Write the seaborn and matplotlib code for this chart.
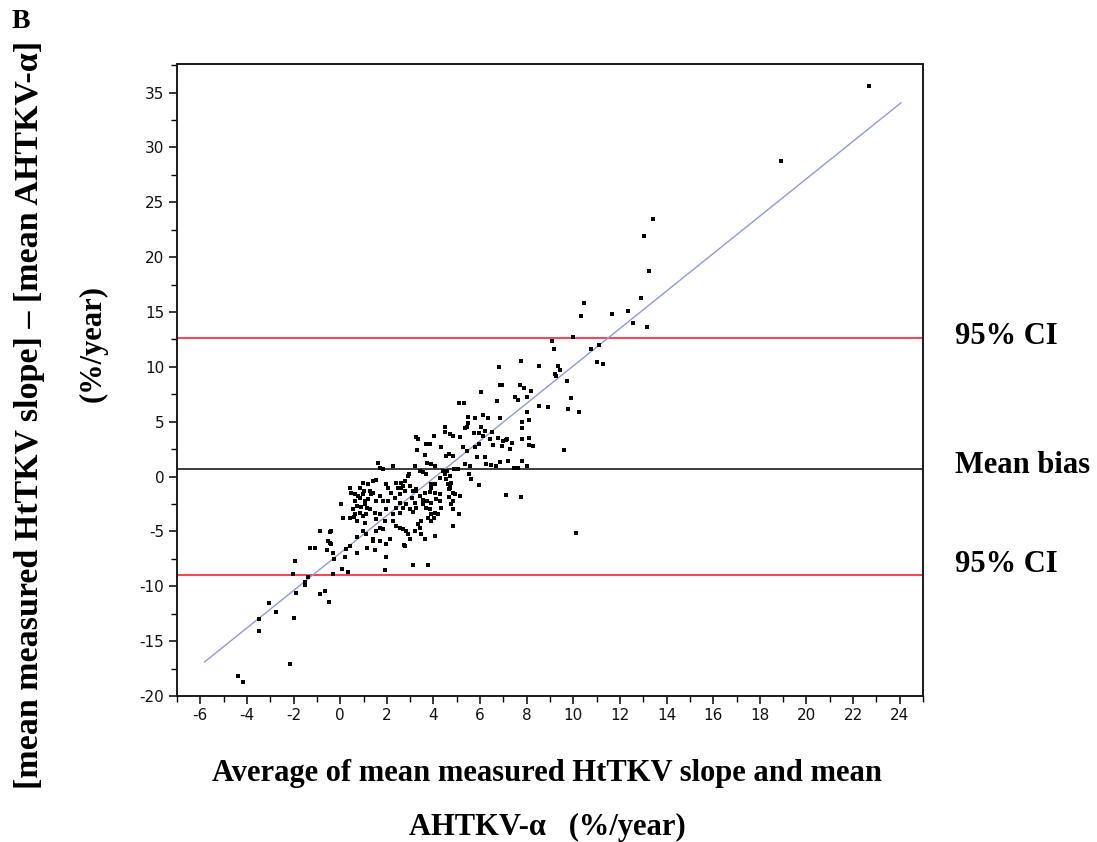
import matplotlib
matplotlib.use("Agg")
import matplotlib.pyplot as plt
import seaborn as sns
import numpy as np
import pandas as pd

# ---- data ----
avg_x = [22.68, 18.89, 13.41, 13.03, 13.24, 12.91, 10.44, 10.31, 11.64, 12.34, 12.54, 13.17,
         9.09, 9.16, 9.98, 10.75, 11.12, 7.76, 11.0, 11.27, 8.53, 9.35, 9.42, 9.22, 9.24, 9.73,
         7.70, 7.89, 8.2, 7.5, 7.63, 8.0, 9.92, 8.53, 8.92, 9.79, 10.25, 8.02, 7.78, 8.08, 7.82,
         7.82, 8.09, 7.35, 8.09, 8.28, 7.27, 9.6, 7.82, 7.45, 8.02, 7.76, 10.12, 7.12, 6.92, 6.85,
         6.99, 6.92, 7.13, 7.2, 6.85, 6.8, 6.87, 6.04, 6.73, 5.09, 5.30, 5.77, 6.13, 6.34, 5.49,
         5.42, 4.51, 4.51, 5.34, 5.74, 5.96, 4.7, 4.82, 5.16, 6.53, 6.13, 3.27, 3.34, 4.01, 3.84,
         3.67, 6.42, 6.56, 6.96, 5.77, 5.96, 5.27, 5.42, 4.34, 4.56, 4.67, 4.84, 3.30, 3.63, 3.74,
         3.91, 4.06, 3.2, 3.41, 3.55, 3.70, 5.85, 6.2, 6.27, 6.49, 6.70, 7.63, 5.34, 5.56, 5.51,
         5.59, 4.88, 5.06, 4.41, 4.58, 1.62, 1.70, 1.84, 2.27, 4.5, 4.56, 4.63, 4.77, 4.73, 4.84,
         4.67, 4.77, 4.84, 5.13, 5.95, 5.10, 4.84, 2.95, 2.77, 2.91, 3.91, 4.06, 3.91, 3.63, 3.84,
         4.06, 4.27, 3.27, 3.41, 3.55, 3.73, 3.91, 4.13, 4.27, 2.98, 3.06, 3.2, 2.41, 2.48, 2.63,
         1.98, 2.05, 2.2, 1.41, 1.55, 1.27, 1.41, 0.98, 0.84, 0.76, 1.05, 1.19, 1.55, 1.70, 1.84,
         2.05, 2.34, 2.55, 2.70, 2.84, 2.98, 3.12, 3.27, 3.55, 3.70, 3.84, 3.91, 4.06, 4.2, 4.34,
         2.41, 2.55, 2.27, 1.98, 1.70, 1.55, 1.91, 1.05, 1.27, 1.48, 0.84, 0.98, 1.12, 0.62, 0.70,
         0.55, 0.05, 0.41, 0.48, 0.62, 0.84, 0.98, 1.19, 1.05, 0.98, 1.12, 1.41, 0.62, 0.70, 1.55,
         1.70, 1.84, 2.27, 2.41, 2.55, 2.70, 2.84, 2.91, 2.98, 3.2, 3.41, 3.48, 3.63, 4.06, 3.91,
         4.01, 2.77, 2.12, 1.98, 0.12, 0.41, -0.38, -0.88, -0.52, -0.38, -1.31, -1.06, 0.27, 0.41,
         -0.55, -1.95, -2.03, -1.49, -1.49, -1.38, -1.88, -3.05, -2.74, -3.5, -1.98, -3.5, -2.17,
         -4.39, -4.17, -0.88, -0.64, -0.49, -0.31, -0.28, -0.31, 0.08, 0.34, 0.19, 0.72, 1.15,
         1.48, 1.98, 1.94, 2.74, 3.12, 3.77, 1.41, 1.70, 1.02, 1.34, 0.91, 1.17, 0.58, 0.72,
         -0.42, -0.45, 4.27, 4.70, 2.63, 2.7, 2.77, 2.55, 3.12, 3.27, 4.7, 4.67, 4.91, 4.84,
         3.48, 3.34, 3.77, 5.49, 6.06, 6.2, 6.78, 7.16]
diff_y = [35.6, 28.8, 23.5, 21.9, 18.76, 16.3, 15.8, 14.6, 14.8, 15.1, 14.0, 13.6,
          12.4, 11.6, 12.7, 11.6, 12.0, 10.5, 10.4, 10.25, 10.1, 10.1, 9.73, 9.37, 9.18, 8.75,
          8.33, 8.09, 7.84, 7.29, 6.99, 7.29, 7.14, 6.44, 6.31, 6.19, 5.92, 5.92, 4.94, 5.12, 4.43,
          3.42, 3.54, 3.02, 2.9, 2.78, 2.5, 2.38, 1.44, 0.77, 0.92, -1.83, -5.18, -1.67, 8.3, 5.34,
          3.27, 2.8, 3.33, 1.44, 1.37, 9.97, 8.36, 7.69, 6.93, 6.71, 6.71, 5.34, 5.62, 5.34, 4.91,
          4.48, 4.48, 4.03, 4.39, 3.93, 3.93, 3.88, 3.72, 3.57, 4.09, 3.72, 3.63, 3.42, 3.72, 2.96,
          2.96, 3.42, 2.9, 2.81, 2.65, 2.96, 2.65, 2.35, 2.65, 1.9, 2.05, 1.9, 2.41, 1.99, 1.28,
          1.13, 0.98, 0.98, 0.52, 0.37, 0.27, 1.74, 1.74, 1.13, 1.07, 0.98, 0.82, 1.13, 0.98, 0.22,
          -0.24, 0.68, 0.68, 0.52, 0.52, 1.23, 0.82, 0.68, 0.92, 0.22, -0.24, -0.64, -0.55, -1.01, -1.46,
          -1.86, -2.53, -2.98, -1.77, -0.8, -3.44, -4.51, 0.22, -0.39, 0.06, -0.64, -0.70, -1.01, -1.46, -1.40,
          -1.46, -1.55, -1.31, -1.77, -2.16, -2.22, -2.38, -2.07, -2.22, -0.85, -1.92, -2.38, -0.55, -1.01, -1.01,
          -0.70, -1.01, -1.46, -0.39, -0.33, -1.31, -1.46, -1.61, -1.92, -1.77, -2.22, -2.07, -2.22, -1.77, -2.22,
          -2.22, -1.92, -2.38, -2.84, -2.53, -2.98, -3.2, -2.84, -2.53, -2.84, -2.98, -3.44, -3.29, -3.44, -2.84,
          -2.84, -3.29, -3.44, -2.98, -3.44, -3.89, -4.05, -2.53, -2.98, -3.29, -3.29, -3.6, -3.44, -2.22, -2.68,
          -2.98, -2.47, -1.01, -1.46, -1.61, -1.01, -0.55, -0.70, -4.21, -4.97, -5.27, -5.73, -3.44, -4.05, -4.97,
          -4.67, -4.82, -4.05, -4.51, -4.67, -4.82, -4.97, -5.27, -5.73, -4.97, -4.67, -5.27, -5.73, -5.43, -4.05,
          -3.75, -6.34, -5.73, -6.18, -3.75, -3.75, -4.97, -4.97, -5.88, -6.18, -6.49, -6.49, -6.64, -6.34,
          -6.71, -7.71, -8.84, -9.84, -9.63, -9.18, -10.61, -11.53, -12.35, -12.99, -12.9, -14.12, -17.1,
          -18.14, -18.76, -10.7, -10.46, -11.44, -7.01, -7.5, -8.84, -8.42, -8.69, -7.32, -6.95, -6.49,
          -6.71, -7.32, -8.56, -6.28, -8.02, -8.02, -5.88, -5.88, -1.31, -1.61, -2.74, -2.84, -3.69, -5.49,
          -5.03, -6.04, -0.09, 0.06, -0.55, -0.85, -1.31, -1.61, -1.31, -1.16, -0.7, -1.16, -1.61, -2.22,
          -4.05, -4.36, -3.75, 5.4, 4.48, 4.18, 3.51, 3.42]

upper_loa = 12.6
mean_bias = 0.7
lower_loa = -9.0
reg_x = [-5.82, 24.06]
reg_y = [-16.9, 34.07]

x_ticks = list(range(-6, 25, 2))
y_ticks = list(range(-20, 36, 5))

df = pd.DataFrame({"avg": avg_x, "diff": diff_y})
df_reg = pd.DataFrame({"x": reg_x, "y": reg_y})

sns.set_theme(style="white")
plt.rcParams["axes.unicode_minus"] = False
plt.rcParams["font.family"] = ["DejaVu Sans"]
plt.rcParams["text.color"] = "black"

W, H = 1097, 842
fig = plt.figure(figsize=(W / 100, H / 100), dpi=100)
ax = fig.add_axes([177 / W, 1 - 696 / H, (923 - 177) / W, (696 - 64) / H])

ax.axhline(upper_loa, color="#f04a5c", lw=1.5, zorder=1)
ax.axhline(lower_loa, color="#f04a5c", lw=1.5, zorder=1)
ax.axhline(mean_bias, color="#1a1a1a", lw=1.2, zorder=1)
sns.lineplot(data=df_reg, x="x", y="y", ax=ax, color="#8e9bd4", lw=1.0, zorder=2)
sns.scatterplot(data=df, x="avg", y="diff", ax=ax, marker="s", s=12, color="black",
                linewidth=0, zorder=3)

ax.set_xlim(-7, 25)
ax.set_ylim(-20, 37.6)
ax.set_xticks(x_ticks)
ax.set_yticks(y_ticks)
ax.set_xticks(np.arange(-7, 26, 2), minor=True)
ax.set_yticks(np.arange(-17.5, 37.6, 5), minor=True)
ax.tick_params(axis="both", which="major", direction="out", length=6, width=1.1,
               color="black", labelsize=11, labelcolor="#111111", pad=3,
               bottom=True, left=True)
ax.tick_params(axis="both", which="minor", direction="out", length=4, width=1.0,
               color="black", bottom=True, left=True)
ax.set_xlabel("")
ax.set_ylabel("")
for s in ax.spines.values():
    s.set_color("#1a1a1a")
    s.set_linewidth(1.4)

serif = ["Liberation Serif", "DejaVu Serif"]
fig.text(12 / W, 1 - 21 / H, "B", family=serif, weight="bold", fontsize=20,
         ha="left", va="center", color="black")
fig.text(30 / W, 1 - 415 / H, "[mean measured HtTKV slope] – [mean AHTKV-α]",
         family=serif, weight="bold", fontsize=24.5, rotation=90, ha="center", va="center",
         color="black")
fig.text(93 / W, 1 - 344 / H, "(%/year)", family=serif, weight="bold", fontsize=22,
         rotation=90, ha="center", va="center", color="black")
fig.text(547 / W, 1 - 773 / H, "Average of mean measured HtTKV slope and mean",
         family=serif, weight="bold", fontsize=22, ha="center", va="center", color="black")
fig.text(547 / W, 1 - 827 / H, "AHTKV-α   (%/year)",
         family=serif, weight="bold", fontsize=22, ha="center", va="center", color="black")
fig.text(955 / W, 1 - 337 / H, "95% CI", family=serif, weight="bold", fontsize=22,
         ha="left", va="center", color="black")
fig.text(955 / W, 1 - 466 / H, "Mean bias", family=serif, weight="bold", fontsize=22,
         ha="left", va="center", color="black")
fig.text(955 / W, 1 - 565 / H, "95% CI", family=serif, weight="bold", fontsize=22,
         ha="left", va="center", color="black")

fig.savefig("out.png", dpi=100, facecolor="white")
